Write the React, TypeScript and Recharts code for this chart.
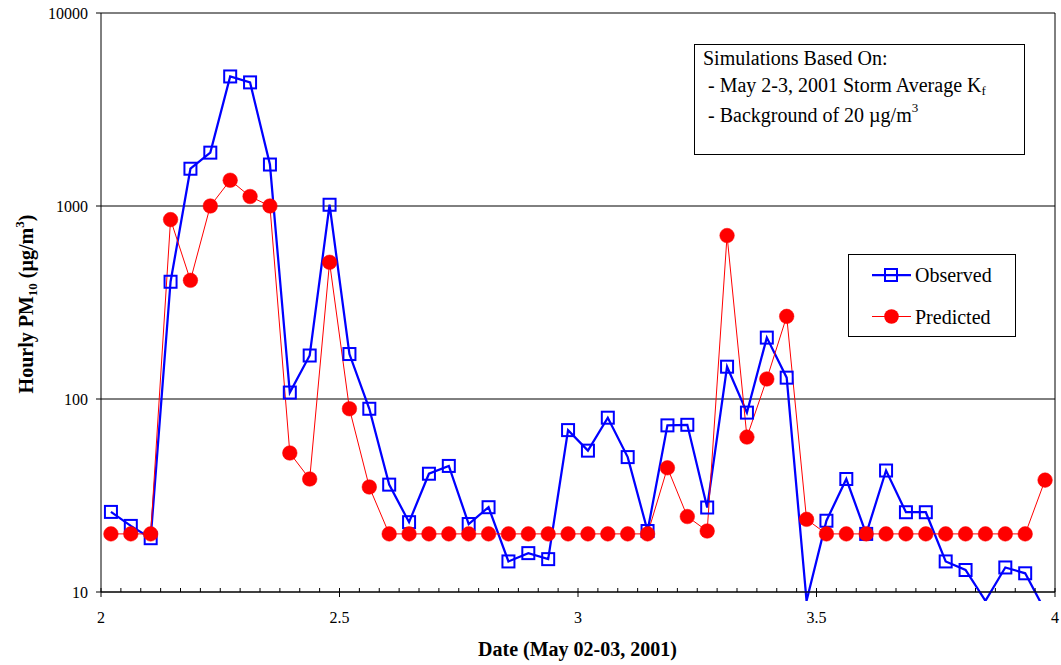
import React from 'react';
import {
  LineChart,
  Line,
  XAxis,
  YAxis,
  CartesianGrid,
  ReferenceLine,
  Customized,
} from 'recharts';

// Hourly PM10 concentrations (µg/m³), May 2-3, 2001 — one value per hour
const observed = [
  26, 22, 19, 405, 1560, 1890, 4690, 4370, 1640, 108, 168, 1015,
  171, 89, 36, 23, 41, 45, 22.5, 27.5, 14.4, 15.9, 14.8, 69,
  54, 80, 50, 20.7, 73, 73.5, 27.4, 147, 85, 208, 129, 9,
  23.4, 38.5, 20, 42.6, 25.9, 25.9, 14.4, 13, 9, 13.4, 12.5, 8,
];
const predicted = [
  20, 20, 20, 850, 412, 1000, 1360, 1120, 1000, 52.5, 38.5, 511,
  89, 35, 20, 20, 20, 20, 20, 20, 20, 20, 20, 20,
  20, 20, 20, 20, 44, 24.6, 20.7, 703, 63.5, 127, 268, 23.8,
  20, 20, 20, 20, 20, 20, 20, 20, 20, 20, 20, 38,
];

const seriesNames = ['Observed', 'Predicted'];
const dayTicks = [2, 2.5, 3, 3.5, 4];
const dayTickLabels = ['2', '2.5', '3', '3.5', '4'];
const concentrationTicks = [10, 100, 1000, 10000];

const xTitle = 'Date (May 02-03, 2001)';
const noteTitle = 'Simulations Based On:';
const noteLine1 = '- May 2-3, 2001 Storm Average K';
const noteLine2 = '- Background of 20 µg/m';

// Day-of-month time axis: each hourly average sits at the middle of its hour
const DAY_START = 2;
const times = observed.map((_, i) => DAY_START + (i + 0.5) / 24);
const hourTicks = Array.from({ length: 49 }, (_, i) => DAY_START + i / 24);

const data = times.map((t, i) => ({
  t,
  observed: observed[i],
  predicted: predicted[i],
}));

const FONT = '"Liberation Serif", "Times New Roman", serif';
const BLUE = '#0000FF';
const RED = '#FF0000';

// Bottom axis: hourly minor ticks pointing up, major ticks crossing the axis
const HourTick = (props: any) => {
  const { x, y, payload } = props;
  const idx = dayTicks.findIndex((d) => Math.abs(d - payload.value) < 1e-6);
  const major = idx >= 0;
  return (
    <g>
      <line x1={x} x2={x} y1={y - 4} y2={major ? y + 5 : y} stroke="#000" strokeWidth={1} />
      {major && (
        <text x={x} y={y + 31} textAnchor="middle" fontFamily={FONT} fontSize={16} fill="#000">
          {dayTickLabels[idx]}
        </text>
      )}
    </g>
  );
};

const squareDot = (p: any) => {
  const { cx, cy, value, index } = p;
  if (value == null || value < 10 || cx == null || cy == null) return <g key={`o-${index}`} />;
  return (
    <rect
      key={`o-${index}`}
      x={cx - 6}
      y={cy - 6}
      width={12}
      height={12}
      fill="none"
      stroke={BLUE}
      strokeWidth={2}
    />
  );
};

const circleDot = (p: any) => {
  const { cx, cy, value, index } = p;
  if (value == null || value < 10 || cx == null || cy == null) return <g key={`p-${index}`} />;
  return <circle key={`p-${index}`} cx={cx} cy={cy} r={7.3} fill={RED} stroke={RED} strokeWidth={0.5} />;
};

// Titles, note box, legend and the overflow clip region for the lines
const Overlay = () => (
  <g fontFamily={FONT} fill="#000">
    <defs>
      <clipPath id="plotOverflowClip">
        <rect x={101} y={0} width={954} height={601} />
      </clipPath>
    </defs>

    <text
      transform="translate(33,304) rotate(-90)"
      textAnchor="middle"
      fontWeight="bold"
      fontSize={20}
    >
      Hourly PM
      <tspan fontSize={13} dy={4}>10</tspan>
      <tspan dy={-4}> (µg/m</tspan>
      <tspan fontSize={13} dy={-9}>3</tspan>
      <tspan dy={9}>)</tspan>
    </text>

    <text x={577.5} y={656} textAnchor="middle" fontWeight="bold" fontSize={20}>
      {xTitle}
    </text>

    <rect x={694.5} y={44.5} width={330} height={110} fill="#fff" stroke="#000" strokeWidth={1} />
    <text x={703} y={65} fontSize={20}>{noteTitle}</text>
    <text x={708} y={92} fontSize={20}>
      {noteLine1}
      <tspan fontSize={13} dy={3}>f</tspan>
    </text>
    <text x={708} y={122} fontSize={20}>
      {noteLine2}
      <tspan fontSize={13} dy={-10}>3</tspan>
    </text>

    <rect x={848.5} y={254.5} width={167} height={82} fill="#fff" stroke="#000" strokeWidth={1} />
    <line x1={872} x2={911} y1={275} y2={275} stroke={BLUE} strokeWidth={2.25} />
    <rect x={885} y={269} width={12} height={12} fill="none" stroke={BLUE} strokeWidth={2} />
    <text x={915} y={282} fontSize={20}>{seriesNames[0]}</text>
    <line x1={872} x2={911} y1={316.5} y2={316.5} stroke={RED} strokeWidth={1} />
    <circle cx={891.5} cy={316.5} r={7.3} fill={RED} />
    <text x={915} y={323.5} fontSize={20}>{seriesNames[1]}</text>
  </g>
);

export default function App() {
  return (
    <div style={{ position: 'absolute', left: 0, top: 0, background: '#fff' }}>
      <style>{'.recharts-line [clip-path]{clip-path:url(#plotOverflowClip);}'}</style>
      <LineChart
        width={1061}
        height={665}
        data={data}
        margin={{ top: 13, right: 6, bottom: 0, left: 0 }}
      >
        <CartesianGrid vertical={false} stroke="#000" strokeWidth={1} />
        <XAxis
          dataKey="t"
          type="number"
          domain={[2, 4]}
          ticks={hourTicks}
          interval={0}
          height={73}
          tickSize={0}
          tickMargin={0}
          tickLine={false}
          tick={<HourTick />}
          axisLine={{ stroke: '#000', strokeWidth: 1 }}
        />
        <YAxis
          scale="log"
          type="number"
          domain={[10, 10000]}
          allowDataOverflow
          ticks={concentrationTicks}
          interval={0}
          width={101}
          tickSize={5}
          tickMargin={8}
          tickLine={{ stroke: '#000' }}
          axisLine={{ stroke: '#000', strokeWidth: 1 }}
          tick={{ fontFamily: FONT, fontSize: 16, fill: '#000' }}
        />
        <ReferenceLine x={4} stroke="#000" strokeWidth={1} />
        <Line
          dataKey="observed"
          name={seriesNames[0]}
          type="linear"
          stroke={BLUE}
          strokeWidth={2.25}
          dot={squareDot}
          activeDot={false}
          isAnimationActive={false}
        />
        <Line
          dataKey="predicted"
          name={seriesNames[1]}
          type="linear"
          stroke={RED}
          strokeWidth={1}
          dot={circleDot}
          activeDot={false}
          isAnimationActive={false}
        />
        <Customized component={Overlay} />
      </LineChart>
    </div>
  );
}
